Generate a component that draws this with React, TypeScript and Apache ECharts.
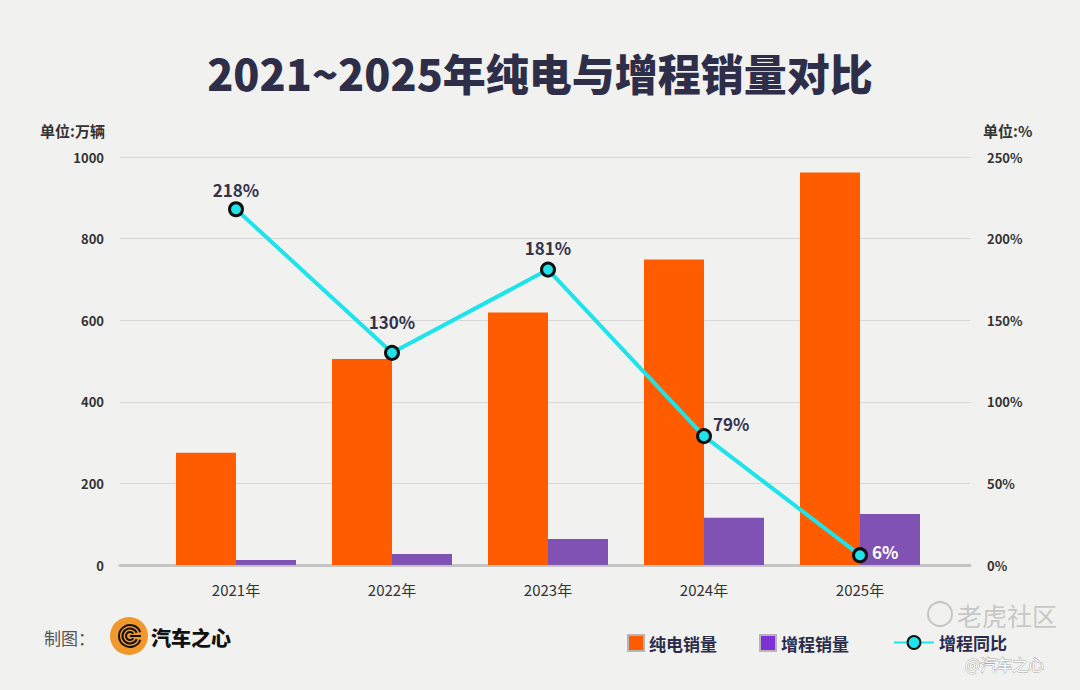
import React, { useEffect, useRef } from "react";
import * as echarts from "echarts";

const years = ["2021年", "2022年", "2023年", "2024年", "2025年"];
const bevSales = [275, 505, 619, 749, 962];
const erevSales = [12, 27, 64, 116, 125];
const erevYoY = [218, 130, 181, 79, 6];
const leftTicks = { min: 0, max: 1000, interval: 200 };
const rightTicks = { min: 0, max: 250, interval: 50 };

const FONT = "'Noto Sans CJK SC', 'Noto Sans', sans-serif";

export default function App() {
  const ref = useRef<HTMLDivElement>(null);
  useEffect(() => {
    if (!ref.current) return;
    const chart = echarts.init(ref.current, null, { renderer: "svg" });
    const yoyData = erevYoY.map((v, i) => {
      if (i === 1) {
        return { value: v, label: { offset: [0, -12] } };
      }
      if (i === 2) {
        return { value: v, label: { offset: [0, -3] } };
      }
      if (i === 3) {
        return { value: v, label: { position: "right", distance: 1, offset: [0, -13] } };
      }
      if (i === 4) {
        return { value: v, label: { position: "right", distance: 4, offset: [0, -4], color: "#ffffff" } };
      }
      return v;
    });
    chart.setOption({
      animation: false,
      backgroundColor: "#f1f1f0",
      textStyle: { fontFamily: FONT },
      grid: [
        { left: 120, right: 110, top: 157, bottom: 125 },
        { left: 158, right: 142, top: 157, bottom: 125 },
      ],
      legend: [
        {
          left: 622,
          top: 629,
          itemWidth: 16,
          itemHeight: 16,
          itemGap: 42,
          textStyle: { fontSize: 17, fontWeight: "bold", color: "#2b2b4b", fontFamily: FONT },
          data: [
            { name: "纯电销量", icon: "rect", itemStyle: { borderColor: "#b5b5b5", borderWidth: 2 } },
            { name: "增程销量", icon: "rect", itemStyle: { color: "#7f30d8", borderColor: "#b5b5b5", borderWidth: 2 } },
          ],
        },
        {
          left: 888,
          top: 629,
          itemWidth: 40,
          itemHeight: 16,
          textStyle: { fontSize: 17, fontWeight: "bold", color: "#2b2b4b", fontFamily: FONT },
          data: ["增程同比"],
        },
      ],
      xAxis: [
        {
          type: "value",
          gridIndex: 0,
          min: 0,
          max: 1,
          axisLine: { show: true, lineStyle: { color: "#c4c4c4", width: 3 } },
          axisTick: { show: false },
          axisLabel: { show: false },
          splitLine: { show: false },
        },
        {
          type: "category",
          gridIndex: 1,
          data: years,
          axisLine: { show: false },
          axisTick: { show: false },
          axisLabel: { color: "#333333", fontSize: 15, margin: 17, fontFamily: FONT },
        },
      ],
      yAxis: [
        {
          type: "value",
          gridIndex: 0,
          ...leftTicks,
          axisLine: { show: false },
          axisTick: { show: false },
          axisLabel: {
            color: "#333333",
            fontSize: 13,
            fontWeight: 600,
            margin: 16,
            fontFamily: FONT,
            formatter: (v: number) => String(v),
          },
          splitLine: { lineStyle: { color: "#d6d6d6", width: 1 } },
        },
        {
          type: "value",
          gridIndex: 0,
          position: "right",
          ...rightTicks,
          axisLine: { show: false },
          axisTick: { show: false },
          axisLabel: { color: "#333333", fontSize: 13, fontWeight: 600, margin: 17, formatter: "{value}%", fontFamily: FONT },
          splitLine: { show: false },
        },
        { type: "value", gridIndex: 1, ...leftTicks, show: false, splitLine: { show: false } },
        { type: "value", gridIndex: 1, ...rightTicks, show: false, splitLine: { show: false } },
      ],
      series: [
        {
          name: "纯电销量",
          type: "bar",
          xAxisIndex: 1,
          yAxisIndex: 2,
          barWidth: 60,
          barGap: "0%",
          itemStyle: { color: "#ff5c00" },
          data: bevSales,
        },
        {
          name: "增程销量",
          type: "bar",
          xAxisIndex: 1,
          yAxisIndex: 2,
          barWidth: 60,
          barGap: "0%",
          itemStyle: { color: "#7f52b3" },
          data: erevSales,
        },
        {
          name: "增程同比",
          type: "line",
          xAxisIndex: 1,
          yAxisIndex: 3,
          z: 10,
          symbol: "circle",
          symbolSize: 13,
          lineStyle: { color: "#1ee3ea", width: 4 },
          itemStyle: { color: "#1ee3ea", borderColor: "#111111", borderWidth: 3 },
          label: {
            show: true,
            position: "top",
            distance: 3,
            fontSize: 17,
            fontWeight: "bold",
            color: "#33334d",
            fontFamily: FONT,
            formatter: "{c}%",
          },
          data: yoyData,
        },
      ],
      graphic: [
        {
          type: "text",
          x: 540,
          y: 72,
          style: {
            text: "2021~2025年纯电与增程销量对比",
            fontSize: 43,
            fontWeight: 900,
            fill: "#2e2e48",
            fontFamily: FONT,
            textAlign: "center",
            textVerticalAlign: "middle",
          },
        },
        {
          type: "text",
          x: 40,
          y: 130,
          style: { text: "单位:万辆", fontSize: 15, fontWeight: "bold", fill: "#333333", fontFamily: FONT, textVerticalAlign: "middle" },
        },
        {
          type: "text",
          x: 983,
          y: 130,
          style: { text: "单位:%", fontSize: 15, fontWeight: "bold", fill: "#333333", fontFamily: FONT, textVerticalAlign: "middle" },
        },
        {
          type: "text",
          x: 44,
          y: 637,
          style: { text: "制图：", fontSize: 17, fill: "#555555", fontFamily: FONT, textVerticalAlign: "middle" },
        },
        {
          type: "group",
          x: 129,
          y: 636,
          children: [
            { type: "circle", shape: { cx: 0, cy: 0, r: 19 }, style: { fill: "#f0982c" } },
            { type: "arc", shape: { cx: 1, cy: 0, r: 11, startAngle: 0.35, endAngle: Math.PI * 2 - 0.35 }, style: { stroke: "#111", lineWidth: 2, fill: "none" } },
            { type: "arc", shape: { cx: 1, cy: 0, r: 7.5, startAngle: 0.45, endAngle: Math.PI * 2 - 0.45 }, style: { stroke: "#111", lineWidth: 2, fill: "none" } },
            { type: "arc", shape: { cx: 1, cy: 0, r: 4, startAngle: 0.6, endAngle: Math.PI * 2 - 0.6 }, style: { stroke: "#111", lineWidth: 2, fill: "none" } },
            { type: "line", shape: { x1: 1, y1: 0, x2: 12, y2: 0 }, style: { stroke: "#111", lineWidth: 2 } },
          ],
        },
        {
          type: "text",
          x: 151,
          y: 637,
          style: { text: "汽车之心", fontSize: 20, fontWeight: 900, fill: "#111111", fontFamily: FONT, textVerticalAlign: "middle" },
        },
        {
          type: "circle",
          shape: { cx: 940, cy: 614, r: 12 },
          style: { fill: "none", stroke: "rgba(180,180,180,0.7)", lineWidth: 2 },
        },
        {
          type: "text",
          x: 957,
          y: 615,
          style: { text: "老虎社区", fontSize: 25, fill: "rgba(185,185,185,0.75)", fontFamily: FONT, textVerticalAlign: "middle" },
        },
        {
          type: "text",
          x: 965,
          y: 664,
          style: {
            text: "@汽车之心",
            fontSize: 16,
            fill: "#ffffff",
            stroke: "#a8a8a8",
            lineWidth: 1,
            fontFamily: FONT,
            textVerticalAlign: "middle",
          },
        },
      ],
    });
    return () => chart.dispose();
  }, []);
  return <div ref={ref} style={{ position: "fixed", left: 0, top: 0, width: 1080, height: 690 }} />;
}
